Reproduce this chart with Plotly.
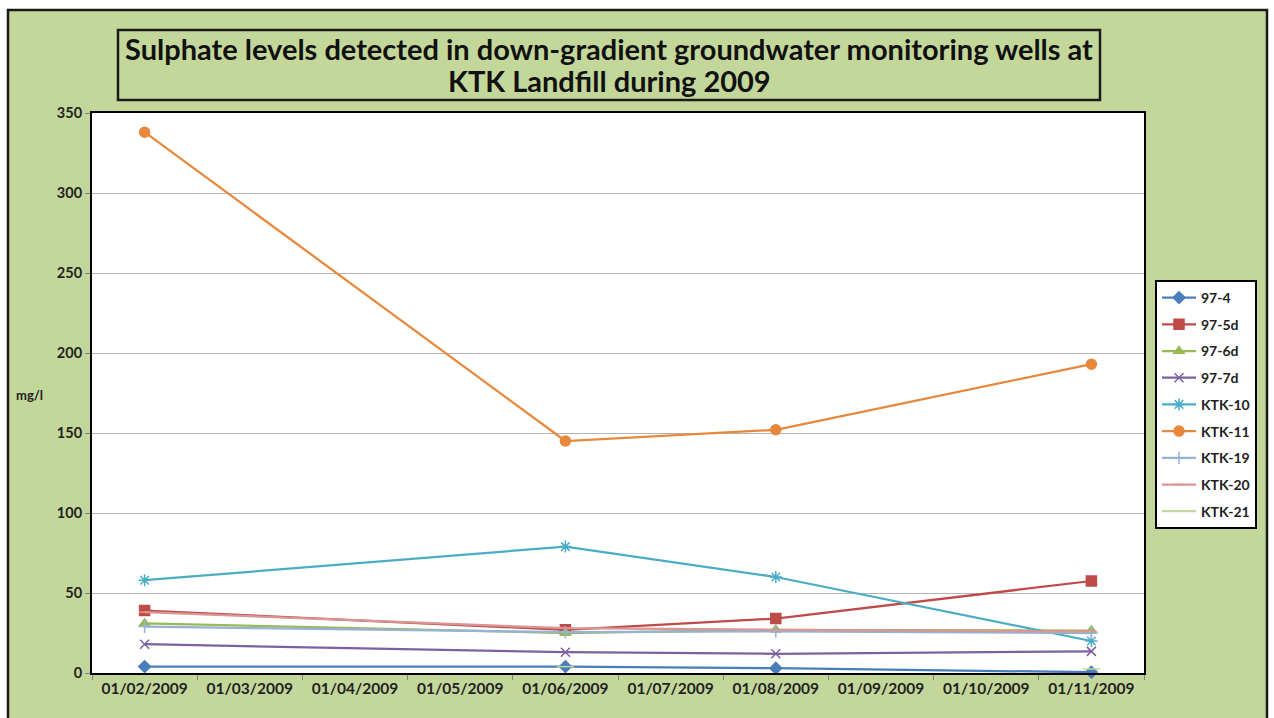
import plotly.graph_objects as go

# Sampling dates (month axis from Feb to Nov 2009)
months = ["01/02/2009", "01/03/2009", "01/04/2009", "01/05/2009", "01/06/2009",
          "01/07/2009", "01/08/2009", "01/09/2009", "01/10/2009", "01/11/2009"]
sample_dates = ["01/02/2009", "01/06/2009", "01/08/2009", "01/11/2009"]

# Sulphate concentrations (mg/l) per monitoring well
s_97_4 = [4, 4, 3, 0.5]
s_97_5d = [39, 27, 34, 57.5]
s_97_6d = [31, 25, 27, 26.5]
s_97_7d = [18, 13, 12, 13.5]
s_ktk_10 = [58, 79, 60, 20]
s_ktk_11 = [338, 145, 152, 193]
s_ktk_19 = [29, 25.5, 26, 25]
s_ktk_20 = [38, 28, 27, 26]
s_ktk_21 = [None, 4, None, 2.5]

y_ticks = [0, 50, 100, 150, 200, 250, 300, 350]

title_lines = ["Sulphate levels detected in down-gradient groundwater monitoring wells at",
               "KTK Landfill during 2009"]

x_pos = [months.index(d) for d in sample_dates]

series = [
    ("97-4", s_97_4, "#4A7EBB", "diamond", 9),
    ("97-5d", s_97_5d, "#BE4B48", "square", 10),
    ("97-6d", s_97_6d, "#98B954", "triangle-up", 9),
    ("97-7d", s_97_7d, "#7D60A0", "x-thin-open", 9),
    ("KTK-10", s_ktk_10, "#4BACC6", "asterisk-open", 10),
    ("KTK-11", s_ktk_11, "#E8883C", "circle", 10),
    ("KTK-19", s_ktk_19, "#95B3D7", "cross-thin-open", 9),
    ("KTK-20", s_ktk_20, "#D99694", "line-ew-open", 8),
    ("KTK-21", s_ktk_21, "#C3D69B", "line-ew-open", 12),
]

fig = go.Figure()
for name, vals, color, sym, size in series:
    fig.add_trace(go.Scatter(
        x=x_pos, y=vals, name=name, mode="lines+markers",
        legendgroup=name,
        line=dict(color=color, width=2.25),
        marker=dict(symbol=sym, size=size, color=color,
                    line=dict(color=color, width=1.5)),
        cliponaxis=False, connectgaps=False,
    ))

font_main = "Lato, 'Open Sans', sans-serif"
green = "#C4D79B"

# plot area spans x 92..1144, y 113..673 in pixels
W, H = 1052, 560
def px(x):
    return (x - 92) / W
def py(y):
    return (673 - y) / H

fig.update_layout(
    width=1274, height=718,
    margin=dict(l=92, r=130, t=113, b=45),
    paper_bgcolor=green,
    plot_bgcolor="white",
    showlegend=True,
    legend=dict(
        x=px(1155), xanchor="left", y=py(280), yanchor="top",
        bgcolor="white", bordercolor="black", borderwidth=2,
        font=dict(family=font_main, size=14, color="#222222", weight="bold"),
        tracegroupgap=5.5, itemwidth=34,
    ),
    xaxis=dict(
        range=[-0.5, 9.5], tickvals=list(range(len(months))), ticktext=months,
        ticks="", showgrid=False, zeroline=False,
        showline=True, linecolor="black", linewidth=2, mirror=True,
        tickfont=dict(family=font_main, size=15.5, color="#222222", weight="bold"),
        minor=dict(tickvals=[i - 0.5 for i in range(len(months) + 1)],
                   ticks="outside", ticklen=5, tickcolor="#808080", tickwidth=1),
    ),
    yaxis=dict(
        range=[0, 350], tickvals=y_ticks, ticks="outside", ticklen=5,
        tickcolor="#808080", showgrid=True, gridcolor="#B4B4B4", gridwidth=1,
        zeroline=False, showline=True, linecolor="black", linewidth=2, mirror=True,
        tickfont=dict(family=font_main, size=14.5, color="#222222", weight="bold"),
    ),
    shapes=[
        # white page margin around the chart frame
        dict(type="rect", xref="paper", yref="paper", layer="above",
             x0=px(-5), x1=px(1280), y0=py(10), y1=py(-5),
             fillcolor="white", line=dict(width=0)),
        dict(type="rect", xref="paper", yref="paper", layer="above",
             x0=px(-5), x1=px(8), y0=py(730), y1=py(10),
             fillcolor="white", line=dict(width=0)),
        dict(type="rect", xref="paper", yref="paper", layer="above",
             x0=px(1267), x1=px(1280), y0=py(730), y1=py(10),
             fillcolor="white", line=dict(width=0)),
        # chart frame
        dict(type="rect", xref="paper", yref="paper", layer="above",
             x0=px(8), x1=px(1267), y0=py(740), y1=py(10),
             fillcolor="rgba(0,0,0,0)", line=dict(color="#1a1a1a", width=2.5)),
        # title box
        dict(type="rect", xref="paper", yref="paper",
             x0=px(118), x1=px(1100), y0=py(100), y1=py(30),
             fillcolor="rgba(0,0,0,0)", line=dict(color="#1a1a1a", width=2.5)),
    ],
    annotations=[
        dict(xref="paper", yref="paper", x=px(609), y=py(49),
             text=title_lines[0], showarrow=False, xanchor="center", yanchor="middle",
             font=dict(family=font_main, size=29, color="#111111", weight="bold")),
        dict(xref="paper", yref="paper", x=px(609), y=py(80),
             text=title_lines[1], showarrow=False, xanchor="center", yanchor="middle",
             font=dict(family=font_main, size=29, color="#111111", weight="bold")),
        dict(xref="paper", yref="paper", x=px(29), y=py(395),
             text="mg/l", showarrow=False, xanchor="center", yanchor="middle",
             font=dict(family=font_main, size=13, color="#222222", weight="bold")),
    ],
)

fig.write_html("out.html")
